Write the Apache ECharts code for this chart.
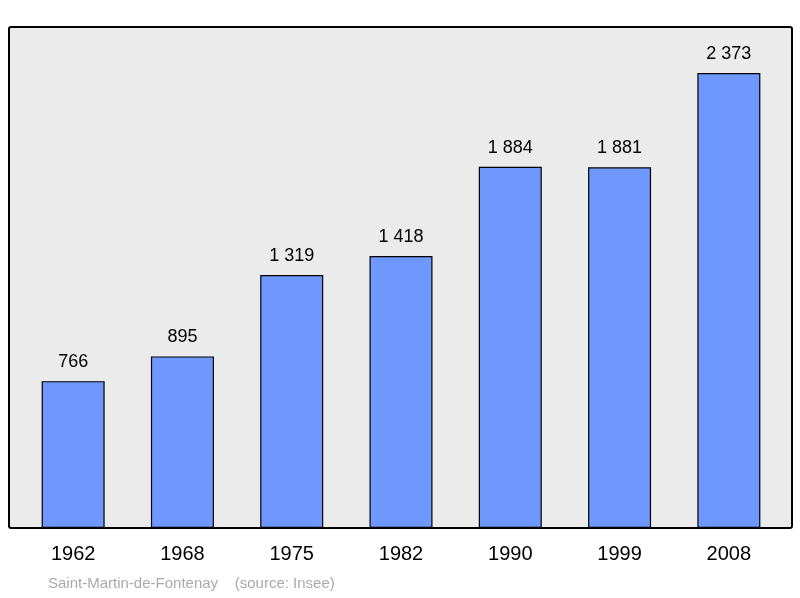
<!DOCTYPE html>
<html><head><meta charset="utf-8">
<script src="https://cdn.jsdelivr.net/npm/echarts@6/dist/echarts.min.js"></script>
<style>html,body{margin:0;padding:0;background:#fff}#c{width:800px;height:598px}</style>
</head><body><div id="c"></div>
<script>
const years = ['1962','1968','1975','1982','1990','1999','2008'];
const population = [766, 895, 1319, 1418, 1884, 1881, 2373];
const fmt = v => String(v).replace(/\B(?=(\d{3})+(?!\d))/g, ' ');
const chart = echarts.init(document.getElementById('c'));
chart.setOption({
  animation: false,
  textStyle: {fontFamily: 'Liberation Sans'},
  graphic: [
    {type: 'rect', z: -10, shape: {x: 9, y: 27, width: 783, height: 501, r: 2},
     style: {fill: '#ebebeb', stroke: '#000', lineWidth: 2}},
    {type: 'text', left: 48, top: 576,
     style: {text: 'Saint-Martin-de-Fontenay    (source: Insee)', fill: '#aaaaaa', font: '15px Liberation Sans'}}
  ],
  grid: {left: 18.5, right: 16.5, top: 27, bottom: 70},
  xAxis: {type: 'category', data: years, axisLine: {show: false}, axisTick: {show: false},
    axisLabel: {color: '#000', fontSize: 20, margin: 16}},
  yAxis: {type: 'value', min: 0, max: 2613, show: false, splitLine: {show: false}},
  series: [{type: 'bar', data: population, barWidth: 63,
    itemStyle: {color: '#6f98ff', borderColor: '#000', borderWidth: 1.2},
    label: {show: true, position: 'top', distance: 10, color: '#000', fontSize: 18,
      formatter: p => fmt(p.value)}}]
});
</script></body></html>
